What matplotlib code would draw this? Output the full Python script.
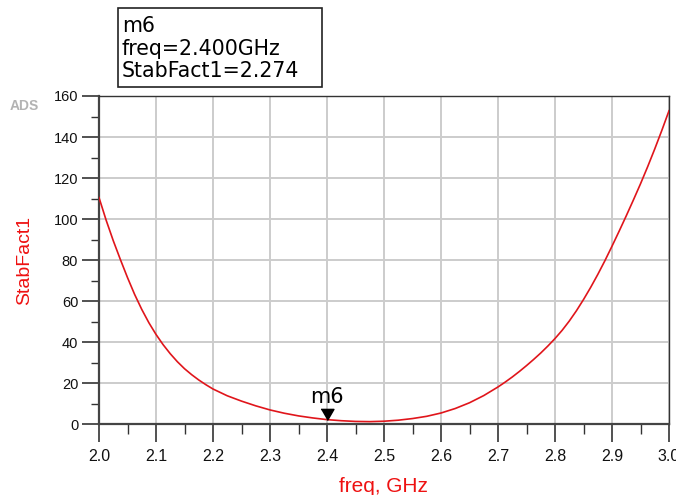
import matplotlib
matplotlib.use("Agg")
import matplotlib.pyplot as plt
from matplotlib.patches import Rectangle
from matplotlib.ticker import MultipleLocator

freq = [2.0000, 2.0125, 2.0250, 2.0375, 2.0500, 2.0625, 2.0750, 2.0875,
        2.1000, 2.1125, 2.1250, 2.1375, 2.1500, 2.1625, 2.1750, 2.1875,
        2.200, 2.225, 2.250, 2.275, 2.300, 2.325, 2.350, 2.375,
        2.400, 2.425, 2.450, 2.475, 2.500, 2.525, 2.550, 2.575,
        2.600, 2.625, 2.650, 2.675,
        2.7000, 2.7125, 2.7250, 2.7375, 2.7500, 2.7625, 2.7750, 2.7875,
        2.8000, 2.8125, 2.8250, 2.8375, 2.8500, 2.8625, 2.8750, 2.8875,
        2.9000, 2.9125, 2.9250, 2.9375, 2.9500, 2.9625, 2.9750, 2.9875,
        3.0000]
stabfact = [110.5, 99.5, 89.5, 80.3, 71.5, 63.3, 56.0, 49.5,
            43.8, 38.8, 34.4, 30.5, 27.1, 24.2, 21.6, 19.3,
            17.2, 13.9, 11.3, 9.0, 7.0, 5.4, 4.1, 3.1,
            2.274, 1.75, 1.4, 1.3, 1.5, 2.0, 2.8, 3.9,
            5.5, 7.7, 10.5, 14.0,
            18.2, 20.55, 23.05, 25.75, 28.6, 31.6, 34.75, 38.15,
            41.8, 45.8, 50.3, 55.3, 60.8, 66.7, 73.0, 79.7,
            86.8, 94.1, 101.6, 109.3, 117.2, 125.5, 134.2, 143.3,
            152.8]
marker_name = 'm6'
marker_freq = 2.400
marker_val = 2.274
xticks = [2.0, 2.1, 2.2, 2.3, 2.4, 2.5, 2.6, 2.7, 2.8, 2.9, 3.0]
yticks = [0, 20, 40, 60, 80, 100, 120, 140, 160]

plt.rcParams['font.family'] = ['Liberation Sans', 'DejaVu Sans']

W, H = 676, 495
fig = plt.figure(figsize=(W / 100, H / 100), dpi=100)
ax = fig.add_axes([99 / W, 1 - 424.3 / H, (669 - 99) / W, (424.3 - 96) / H])

ax.plot(freq, stabfact, color='#e0151b', lw=1.2, zorder=3)
ax.set_xlim(2.0, 3.0)
ax.set_ylim(0, 160)
ax.set_xticks(xticks)
ax.set_xticklabels([f"{t:.1f}" for t in xticks])
ax.set_yticks(yticks)
ax.xaxis.set_minor_locator(MultipleLocator(0.05))
ax.yaxis.set_minor_locator(MultipleLocator(10))
ax.grid(True, which='major', color='#cccccc', lw=1.4, zorder=0)
ax.set_axisbelow(True)

ax.tick_params(which='major', direction='out', length=12, width=1.2, color='#333333',
               labelcolor='#111111')
ax.tick_params(which='minor', direction='out', length=6, width=1.0, color='#333333')
ax.tick_params(axis='y', which='major', labelsize=10.5, pad=3)
ax.tick_params(axis='x', which='major', length=13, labelsize=11.5, pad=5)
ax.tick_params(axis='x', which='minor', length=7)

for side in ['left', 'bottom']:
    ax.spines[side].set_linewidth(1.6)
    ax.spines[side].set_color('#444444')
for side in ['top', 'right']:
    ax.spines[side].set_linewidth(1.0)
    ax.spines[side].set_color('#333333')

fig.text(383 / W, 1 - 492 / H, 'freq, GHz', color='#ee1111', fontsize=15,
         ha='center', va='baseline')
fig.text(24.5 / W, 1 - 260 / H, 'StabFact1', color='#ee1111', fontsize=14,
         rotation=90, ha='center', va='center')

# marker
ax.plot([marker_freq], [marker_val], linestyle='none',
        marker=[(-0.58, 1), (0.58, 1), (0, 0)], markersize=16, color='black', zorder=4)
ax.annotate(marker_name, xy=(marker_freq, marker_val), xytext=(0, 12), textcoords='offset points',
            ha='center', va='baseline', fontsize=15, color='black',
            family=['DejaVu Sans'])

# ADS label
fig.text(10 / W, 1 - 106 / H, 'ADS', color='#b3b3b3', fontsize=10, fontweight='bold',
         ha='left', va='center')

# marker readout box
fig.patches.append(Rectangle((118.3 / W, 1 - 87.3 / H), (322.3 - 118.3) / W, (87.3 - 8.3) / H,
                             transform=fig.transFigure, fill=False, edgecolor='#222222', lw=1.2))
lines = [marker_name, f'freq={marker_freq:.3f}GHz', f'StabFact1={marker_val:.3f}']
baselines = [31.7, 55, 77.3]
for txt, b in zip(lines, baselines):
    fig.text(121.7 / W, 1 - b / H, txt, fontsize=14.8, color='black', ha='left',
             va='baseline', family=['DejaVu Sans'])

fig.savefig('out.png', dpi=100)
